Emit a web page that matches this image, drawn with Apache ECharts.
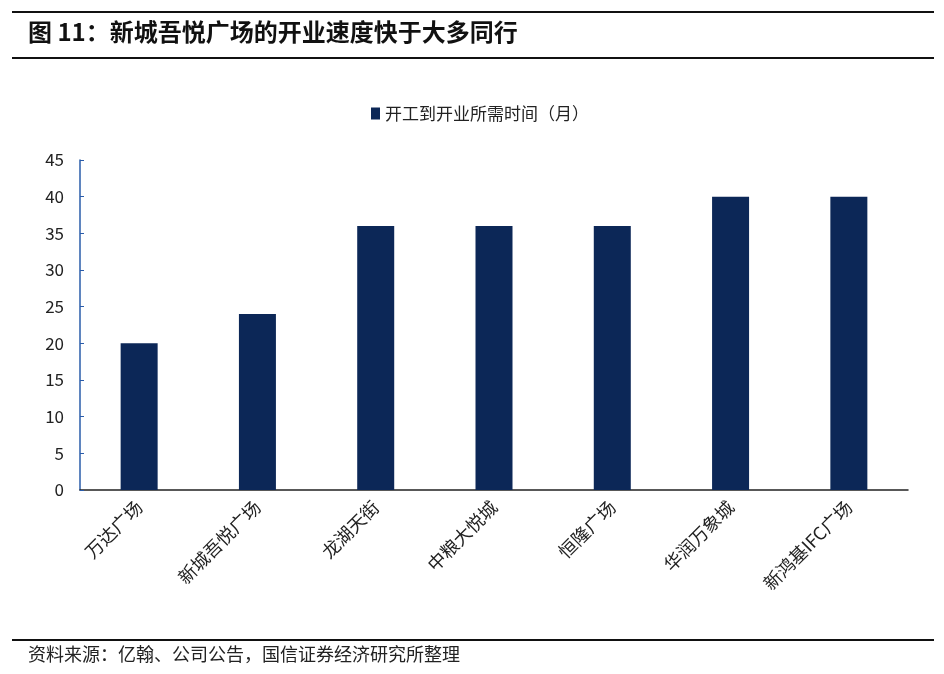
<!DOCTYPE html>
<html>
<head>
<meta charset="utf-8">
<script src="https://cdn.jsdelivr.net/npm/echarts@6/dist/echarts.min.js"></script>
<style>
  html, body { margin: 0; padding: 0; background: #fff; }
  #view1 { width: 944px; height: 674px; }
</style>
</head>
<body>
<div id="view1"></div>
<script>
"use strict";
var malls = ['万达广场', '新城吾悦广场', '龙湖天街', '中粮大悦城', '恒隆广场', '华润万象城', '新鸿基IFC广场'];
var months = [20, 24, 36, 36, 36, 40, 40];
var seriesName = '开工到开业所需时间（月）';
var titleText = '图 11：新城吾悦广场的开业速度快于大多同行';
var sourceText = '资料来源：亿翰、公司公告，国信证券经济研究所整理';

var font = '"Noto Sans CJK SC", "Noto Sans", sans-serif';

function hline(y, w) {
	return { type: 'line', shape: { x1: 12, y1: y, x2: 934, y2: y }, style: { stroke: '#111', lineWidth: w } };
}

var option = {
	backgroundColor: '#fff',
	animation: false,
	textStyle: { fontFamily: font },
	grid: { left: 80, top: 160, right: 36, bottom: 184 },
	legend: {
		data: [{ name: seriesName, icon: 'rect' }], left: 366, top: 100,
		itemWidth: 9, itemHeight: 12, itemGap: 4,
		textStyle: { fontSize: 17, color: '#222', fontFamily: font }
	},
	xAxis: [{
		type: 'category', data: malls,
		axisLine: { lineStyle: { color: '#222', width: 1.5 } },
		axisTick: { inside: true, length: 4, lineStyle: { color: '#222' } },
		axisLabel: { rotate: 45, interval: 0, fontSize: 18, color: '#222', margin: 14 }
	}],
	yAxis: [{
		type: 'value', min: 0, max: 45, interval: 5,
		axisLine: { show: true, lineStyle: { color: '#2a5caa', width: 1.5 } },
		axisTick: { show: true, inside: true, length: 4, lineStyle: { color: '#2a5caa' } },
		splitLine: { show: false },
		axisLabel: { fontSize: 17, color: '#222', margin: 16 }
	}],
	series: [{
		name: seriesName, type: 'bar', data: months,
		barWidth: 37, itemStyle: { color: '#0c2757' }
	}],
	graphic: [
		hline(12, 2),
		hline(58, 2),
		hline(640, 2),
		{ type: 'text', left: 28, top: 20, style: { text: titleText, fill: '#111', font: 'bold 24px ' + font } },
		{ type: 'text', left: 28, top: 645, style: { text: sourceText, fill: '#222', font: '18px ' + font } }
	]
};

var myChart = echarts.init(document.getElementById('view1'));
myChart.setOption(option);
</script>
</body>
</html>
